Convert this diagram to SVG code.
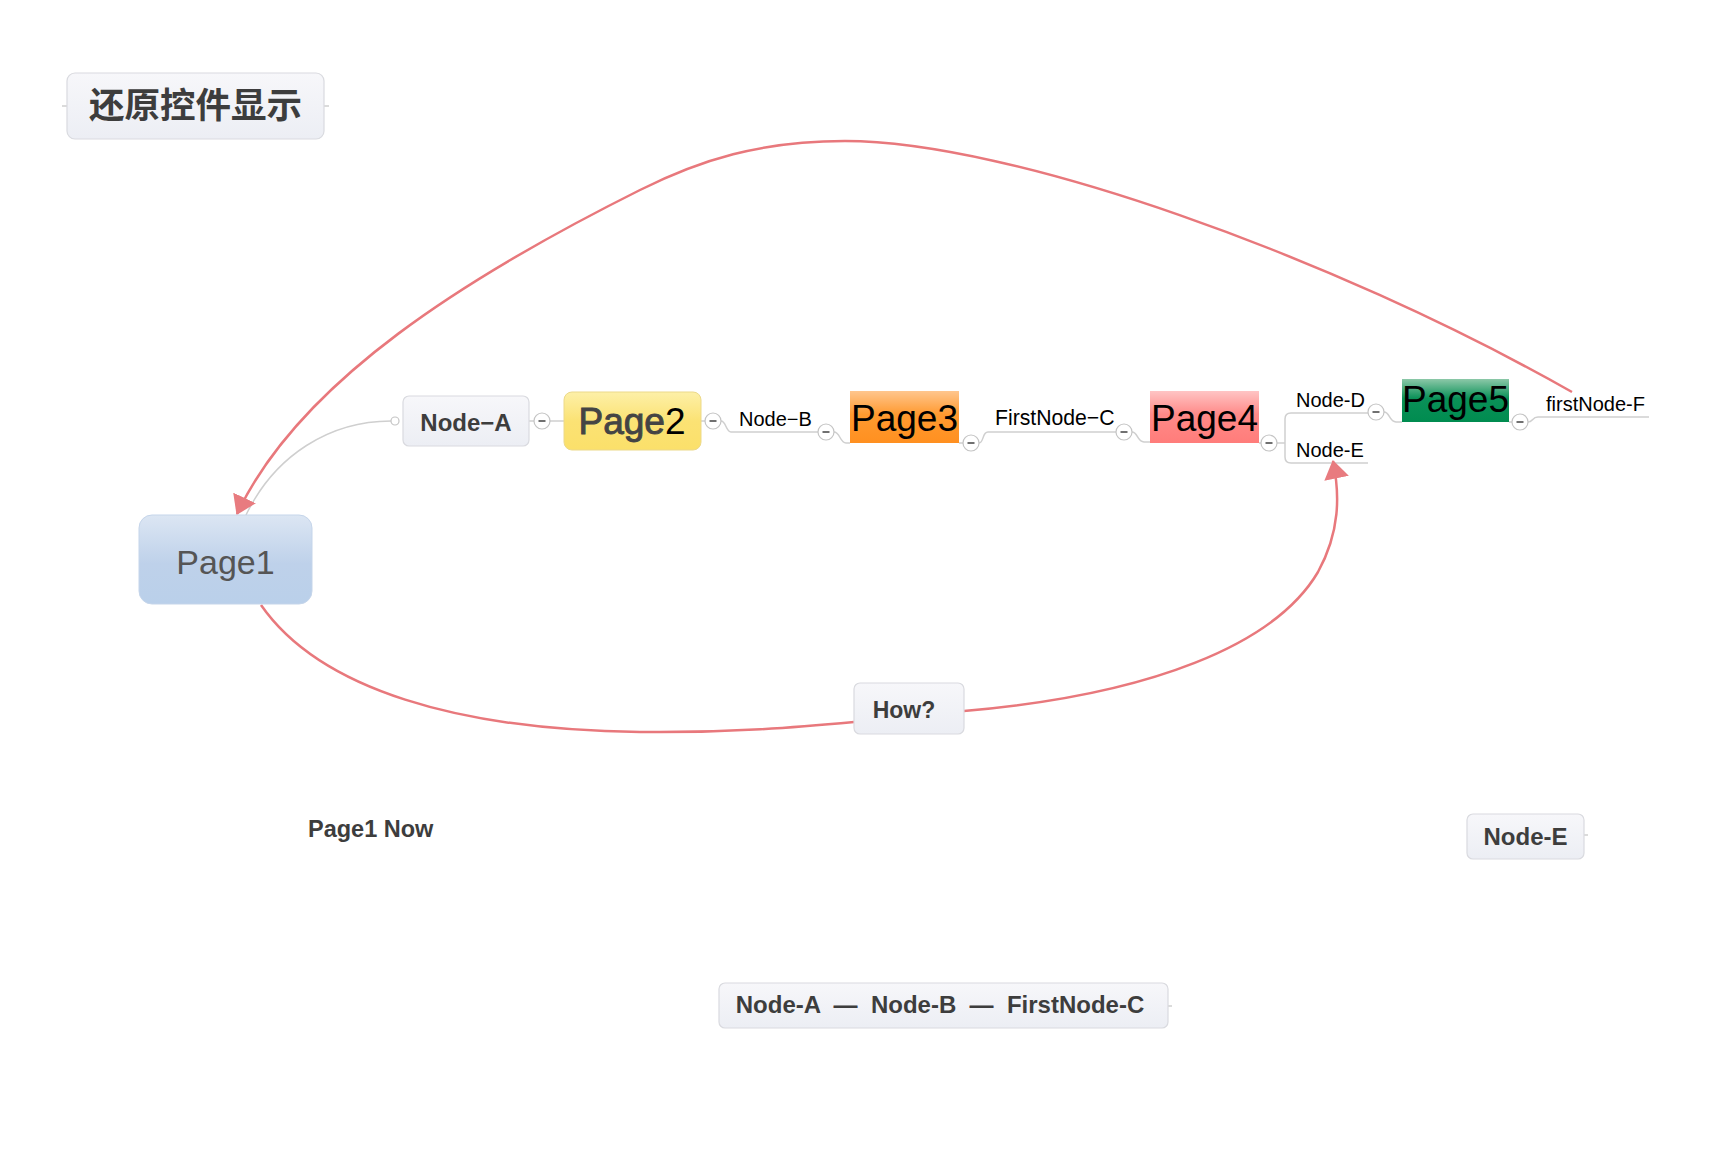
<svg xmlns="http://www.w3.org/2000/svg" width="1736" height="1170" viewBox="0 0 1736 1170">
<defs>
<linearGradient id="gGrey" x1="0" y1="0" x2="0" y2="1"><stop offset="0" stop-color="#f7f7fa"/><stop offset="1" stop-color="#eceef4"/></linearGradient>
<linearGradient id="gBlue" x1="0" y1="0" x2="0" y2="1"><stop offset="0" stop-color="#dce6f3"/><stop offset="0.55" stop-color="#bed1ea"/><stop offset="1" stop-color="#bad0ea"/></linearGradient>
<linearGradient id="gYellow" x1="0" y1="0" x2="0" y2="1"><stop offset="0" stop-color="#fdf0a8"/><stop offset="0.5" stop-color="#fbe274"/><stop offset="1" stop-color="#fbe06a"/></linearGradient>
<linearGradient id="gOrange" x1="0" y1="0" x2="0" y2="1"><stop offset="0" stop-color="#ffc68e"/><stop offset="0.45" stop-color="#ff9a30"/><stop offset="1" stop-color="#ff9020"/></linearGradient>
<linearGradient id="gRed" x1="0" y1="0" x2="0" y2="1"><stop offset="0" stop-color="#ffc4c4"/><stop offset="0.45" stop-color="#ff8a88"/><stop offset="1" stop-color="#ff7c7a"/></linearGradient>
<linearGradient id="gGreen" x1="0" y1="0" x2="0" y2="1"><stop offset="0" stop-color="#8cc8a8"/><stop offset="0.45" stop-color="#0a9158"/><stop offset="1" stop-color="#008c50"/></linearGradient>
<marker id="arrow" viewBox="0 0 18 24" refX="17" refY="12" markerWidth="19" markerHeight="25" markerUnits="userSpaceOnUse" orient="auto">
<path d="M0,0 L18,12 L0,24 Z" fill="#e87b7f"/>
</marker>
<g id="minus">
<circle cx="0" cy="0" r="8" fill="#fff" stroke="#c4c4c4" stroke-width="1.2"/>
<line x1="-3.5" y1="0" x2="3.5" y2="0" stroke="#333" stroke-width="1.4"/>
</g>
</defs>
<style>
.box{fill:url(#gGrey);stroke:#d9dadf;stroke-width:1.2}
.lbl{font-family:"Liberation Sans",Arial,sans-serif;font-weight:bold;fill:#3d3d3d}
.sub{font-family:"Liberation Sans",Arial,sans-serif;font-size:20px;fill:#000}
.pg{font-family:"Liberation Sans",Arial,sans-serif;font-size:37px;fill:#000;text-anchor:middle}
.conn{fill:none;stroke:#cfcfcf;stroke-width:1.5}
.rel{fill:none;stroke:#e8787c;stroke-width:2.5}
</style>
<rect width="1736" height="1170" fill="#fff"/>

<g id="connectors">
<line class="conn" x1="62" y1="106" x2="67" y2="106"/>
<line class="conn" x1="324" y1="106" x2="329" y2="106"/>
<path class="conn" d="M391,421 C330,421 275,455 246,515"/>
<circle cx="395" cy="421" r="4" fill="#fff" stroke="#c4c4c4" stroke-width="1.2"/>
<line class="conn" x1="529" y1="421" x2="564" y2="421"/>
<line class="conn" x1="701" y1="421" x2="713" y2="421"/>
<path class="conn" d="M721,421 C726,421 726,432 731,432 L818,432"/>
<path class="conn" d="M834,432 C840,432 840,443 846,443 L850,443"/>
<line class="conn" x1="959" y1="443" x2="971" y2="443"/>
<path class="conn" d="M979,443 C984,443 982,432 988,432 L1116,432"/>
<path class="conn" d="M1132,432 C1138,432 1137,442 1144,442 L1150,442"/>
<line class="conn" x1="1259" y1="443" x2="1269" y2="443"/>
<path class="conn" d="M1277,443 L1285,443"/>
<path class="conn" d="M1368,413 L1291,413 Q1285,413 1285,419 L1285,457 Q1285,463 1291,463 L1368,463"/>
<path class="conn" d="M1384,412 C1390,412 1389,422 1396,422 L1402,422"/>
<line class="conn" x1="1509" y1="422" x2="1520" y2="422"/>
<path class="conn" d="M1528,422 C1533,422 1532,417 1538,417 L1649,417"/>
<line class="conn" x1="1584" y1="835" x2="1588" y2="835"/>
<line class="conn" x1="1168" y1="1006" x2="1172" y2="1006"/>
<use href="#minus" x="542" y="421"/>
<use href="#minus" x="713" y="421"/>
<use href="#minus" x="826" y="432"/>
<use href="#minus" x="971" y="443"/>
<use href="#minus" x="1124" y="432"/>
<use href="#minus" x="1269" y="443"/>
<use href="#minus" x="1376" y="412"/>
<use href="#minus" x="1520" y="422"/>
<path class="rel" marker-end="url(#arrow)" d="M1572,392 C1330,255 1010,141 845,141 C760,141 700,160 640,190 C470,275 300,380 237,514"/>
<path class="rel" d="M261,605 C320,690 460,730 640,732 C730,733 800,727 854,722"/>
<path class="rel" marker-end="url(#arrow)" d="M964,711 C1150,695 1275,645 1318,572 C1340,532 1340,495 1333,461"/>
</g>

<g id="title">
<rect class="box" x="67" y="73" width="257" height="66" rx="8"/>
<text x="195.5" y="118" text-anchor="middle" font-family="'Noto Sans CJK SC','Noto Sans CJK JP',sans-serif" font-weight="bold" font-size="35.5" fill="#3d3d3d">还原控件显示</text>
</g>

<g id="page1">
<rect x="139" y="515" width="173" height="89" rx="13" fill="url(#gBlue)" stroke="#c5d5ea" stroke-width="1"/>
<text x="225.5" y="574" text-anchor="middle" font-family="'Liberation Sans',Arial,sans-serif" font-size="34" fill="#555">Page1</text>
</g>

<g id="nodeA">
<rect class="box" x="403" y="396" width="126" height="50" rx="6"/>
<text class="lbl" x="466" y="431" text-anchor="middle" font-size="24">Node−A</text>
</g>

<g id="page2">
<rect x="564" y="392" width="137" height="58" rx="8" fill="url(#gYellow)" stroke="#ecd98a" stroke-width="1"/>
<text class="pg" x="632" y="434"><tspan fill="#444" stroke="#444" stroke-width="0.9">Page</tspan><tspan fill="#000">2</tspan></text>
</g>

<g id="nodeB">
<text class="sub" x="739" y="426">Node−B</text>
</g>

<g id="page3">
<rect x="850" y="391" width="109" height="52" fill="url(#gOrange)"/>
<text class="pg" x="904.5" y="431">Page3</text>
</g>

<g id="firstNodeC">
<text class="sub" x="995" y="425" style="font-size:21.2px">FirstNode−C</text>
</g>

<g id="page4">
<rect x="1150" y="391" width="109" height="52" fill="url(#gRed)"/>
<text class="pg" x="1204.5" y="431">Page4</text>
</g>

<g id="nodeD">
<text class="sub" x="1296" y="407">Node-D</text>
</g>

<g id="nodeE">
<text class="sub" x="1296" y="457">Node-E</text>
</g>

<g id="page5">
<rect x="1402" y="379" width="107" height="43" fill="url(#gGreen)"/>
<text class="pg" x="1455.5" y="412">Page5</text>
</g>

<g id="firstNodeF">
<text class="sub" x="1546" y="411">firstNode-F</text>
</g>

<g id="how">
<rect class="box" x="854" y="683" width="110" height="51" rx="6"/>
<text class="lbl" x="904" y="718" text-anchor="middle" font-size="23">How?</text>
</g>

<g id="page1Now">
<text class="lbl" x="308" y="837" font-size="23.5">Page1 Now</text>
</g>

<g id="nodeEBox">
<rect class="box" x="1467" y="814" width="117" height="45" rx="6"/>
<text class="lbl" x="1525.5" y="845" text-anchor="middle" font-size="24">Node-E</text>
</g>

<g id="summary">
<rect class="box" x="719" y="983" width="449" height="45" rx="6"/>
<text class="lbl" x="940" y="1013" text-anchor="middle" font-size="24" xml:space="preserve" style="white-space:pre">Node-A  —  Node-B  —  FirstNode-C</text>
</g>
</svg>
